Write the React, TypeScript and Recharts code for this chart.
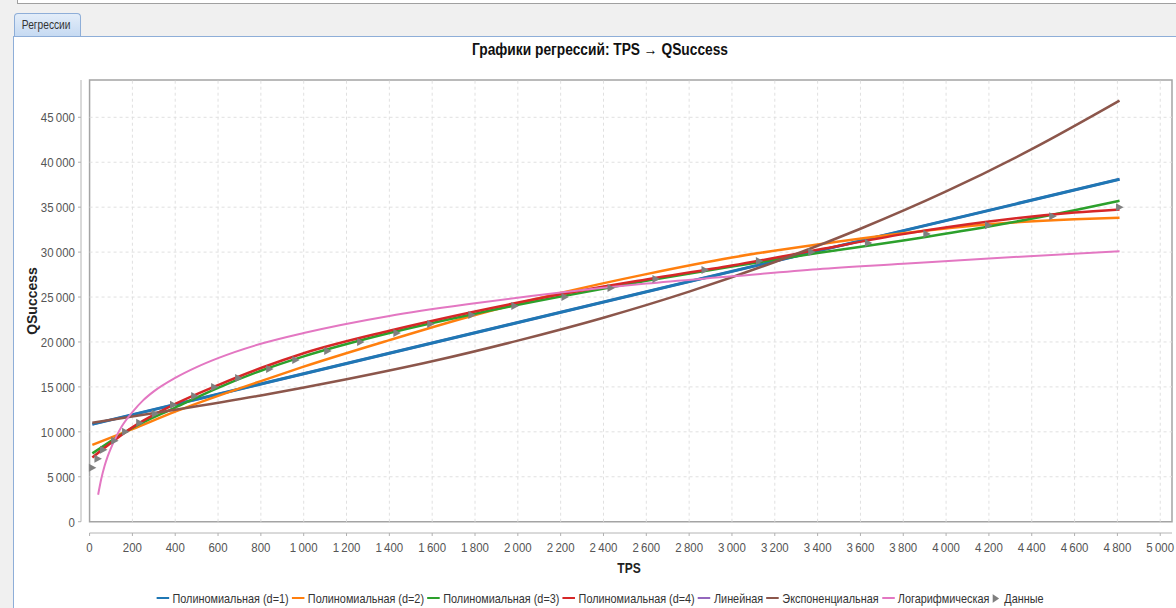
/** Regression chart — TPS → QSuccess, seven fitted curves over measured points */
import React from 'react'
import {
  ComposedChart,
  Line,
  Scatter,
  XAxis,
  YAxis,
  ReferenceLine,
  ReferenceArea,
  Legend,
} from 'recharts'

const FONT = "'Liberation Sans', Arial, sans-serif"
// the source UI uses a condensed face; squeeze the regular one horizontally
const SQUEEZE = 0.85

// measured points (Данные)
const tpsValues = [
  13, 39, 65, 117, 168, 234, 307, 392, 491, 584, 696, 841, 963, 1112, 1266,
  1435, 1593, 1785, 1986, 2220, 2435, 2645, 2874, 3128, 3372, 3637, 3910, 4198, 4498, 4810,
]
const qSuccessValues = [
  6000, 7000, 8000, 9000, 10000, 11000, 12000, 13000, 14000, 15000, 16000, 17000, 18000, 19000, 20000,
  21000, 22000, 23000, 24000, 25000, 26000, 27000, 28000, 29000, 30000, 31000, 32000, 33000, 34000, 35000,
]

// fitted curves
const linTps = [13, 2850, 4810]
const poly1Values = [10840, 27010, 38100]
const linearValues = [10840, 27010, 38100]

const polyTps = [13, 200, 400, 600, 800, 1000, 1400, 1800, 2200, 2600, 3000, 3400, 3800, 4200, 4600, 4810]
const poly2Values = [8550, 10300, 12250, 14000, 15650, 17250, 20200, 23000, 25450, 27550, 29400, 30850, 32100, 33100, 33650, 33830]
const poly3Values = [7600, 10450, 12700, 14900, 16800, 18400, 21000, 23150, 25050, 26800, 28400, 29900, 31300, 32850, 34650, 35720]
const poly4Values = [7150, 10500, 13100, 15200, 17100, 18750, 21250, 23400, 25300, 26950, 28500, 30250, 32000, 33400, 34400, 34750]

const expTps = [13, 400, 800, 1200, 1600, 2000, 2400, 2800, 3200, 3600, 4000, 4400, 4810]
const expValues = [11000, 12450, 14050, 15850, 17850, 20150, 22700, 25600, 28900, 32600, 36750, 41450, 46850]

const logTps = [40, 55, 70, 85, 100, 125, 150, 200, 250, 300, 400, 500, 600, 800, 1000, 1400, 1800, 2200, 2600, 3000, 3400, 3800, 4200, 4810]
const logValues = [3000, 4800, 6200, 7300, 8200, 9500, 10600, 12200, 13500, 14500, 16000, 17200, 18200, 19800, 21000, 22900, 24300, 25500, 26500, 27300, 28100, 28700, 29300, 30100]

const xTicks = Array.from({ length: 26 }, (_, i) => i * 200)
const yTicks = [0, 5000, 10000, 15000, 20000, 25000, 30000, 35000, 40000, 45000]

// axis ranges: the axes sit a few px outside the framed plot box
const X_MIN = -40
const X_MAX = 5055
const Y_MIN = -1257
const Y_MAX = 49150

const toPoints = (xs: number[], ys: number[]) => xs.map((x, i) => ({ x, y: ys[i] }))

const series = [
  { key: 'lin',   name: 'Линейная',             color: '#9467bd', pts: toPoints(linTps, linearValues), width: 2.5 },
  { key: 'p1',    name: 'Полиномиальная (d=1)', color: '#1f77b4', pts: toPoints(linTps, poly1Values),  width: 3 },
  { key: 'p2',    name: 'Полиномиальная (d=2)', color: '#ff7f0e', pts: toPoints(polyTps, poly2Values), width: 2.5 },
  { key: 'p3',    name: 'Полиномиальная (d=3)', color: '#2ca02c', pts: toPoints(polyTps, poly3Values), width: 2.5 },
  { key: 'p4',    name: 'Полиномиальная (d=4)', color: '#d62728', pts: toPoints(polyTps, poly4Values), width: 2.5 },
  { key: 'exp',   name: 'Экспоненциальная',     color: '#8c564b', pts: toPoints(expTps, expValues),    width: 2.5 },
  { key: 'log',   name: 'Логарифмическая',      color: '#e377c2', pts: toPoints(logTps, logValues),    width: 2 },
]
const legendOrder = ['p1', 'p2', 'p3', 'p4', 'lin', 'exp', 'log']

const dataPoints = toPoints(tpsValues, qSuccessValues)

function fmt(n: number): string {
  return String(n).replace(/\B(?=(\d{3})+(?!\d))/g, '\u2009')
}

// eslint-disable-next-line @typescript-eslint/no-explicit-any
function Triangle({ cx, cy }: any) {
  if (cx == null || cy == null) return null
  return <path d={`M${cx - 3.5},${cy - 4} L${cx + 4},${cy} L${cx - 3.5},${cy + 4} Z`} fill="#7f7f7f" />
}

// eslint-disable-next-line @typescript-eslint/no-explicit-any
function XTick({ x, y, payload }: any) {
  return (
    <g transform={`translate(${x},${y})`}>
      <text transform={`scale(${SQUEEZE},1)`} textAnchor="middle" dy="0.71em"
        fill="#555" fontSize={13.5} fontFamily={FONT}>{fmt(payload.value)}</text>
    </g>
  )
}

// eslint-disable-next-line @typescript-eslint/no-explicit-any
function YTick({ x, y, payload }: any) {
  return (
    <g transform={`translate(${x},${y})`}>
      <text transform={`scale(${SQUEEZE},1)`} textAnchor="end" dy="0.36em"
        fill="#555" fontSize={13.5} fontFamily={FONT}>{fmt(payload.value)}</text>
    </g>
  )
}

function LegendContent() {
  return (
    <div style={{ display: 'flex', justifyContent: 'center', height: 20, paddingLeft: 8 }}>
      <div style={{
        display:         'inline-flex',
        alignItems:      'center',
        height:          20,
        fontFamily:      FONT,
        fontSize:        13,
        color:           '#333',
        whiteSpace:      'nowrap',
        transform:       'scaleX(0.835)',
        transformOrigin: 'center',
      }}>
        {legendOrder.map(k => {
          const s = series.find(v => v.key === k)!
          return (
            <span key={k} style={{ display: 'flex', alignItems: 'center', marginRight: 4 }}>
              <span style={{ width: 15, height: 2, background: s.color, marginRight: 4 }} />
              {s.name}
            </span>
          )
        })}
        <span style={{ display: 'flex', alignItems: 'center' }}>
          <svg width={8} height={9} style={{ marginRight: 6 }}>
            <path d="M0,0 L8,4.5 L0,9 Z" fill="#7f7f7f" />
          </svg>
          Данные
        </span>
      </div>
    </div>
  )
}

export default function App() {
  return (
    <div style={{ position: 'absolute', left: 0, top: 0, width: 1176, height: 608, background: '#f0f0f0', overflow: 'hidden' }}>
      {/* window chrome */}
      <div style={{ position: 'absolute', left: 17, top: 0, width: 1159, height: 3, background: '#fff', borderLeft: '1px solid #a0a0a0', borderBottom: '1px solid #a0a0a0' }} />
      <div style={{ position: 'absolute', left: 13, top: 36, width: 1163, height: 572, background: '#fff', borderLeft: '1px solid #8eaed8', borderTop: '1px solid #8eaed8' }} />
      <div style={{
        position:     'absolute',
        left:         14,
        top:          13,
        width:        67,
        height:       23,
        border:       '1px solid #8eaed8',
        borderBottom: 'none',
        borderRadius: '4px 4px 0 0',
        background:   'linear-gradient(#e3edf9, #c6daf2)',
        boxSizing:    'border-box',
        overflow:     'hidden',
      }}>
        <div style={{
          fontFamily:      FONT,
          fontSize:        12,
          color:           '#333',
          lineHeight:      '23px',
          paddingLeft:     8,
          whiteSpace:      'nowrap',
          transform:       `scaleX(${SQUEEZE})`,
          transformOrigin: 'left',
        }}>Регрессии</div>
      </div>

      <div style={{
        position:        'absolute',
        left:            400,
        width:           400,
        top:             41,
        textAlign:       'center',
        fontFamily:      FONT,
        fontSize:        16,
        fontWeight:      700,
        color:           '#111',
        lineHeight:      '18px',
        transform:       'scaleX(0.86)',
        transformOrigin: 'center',
      }}>Графики регрессий: TPS → QSuccess</div>

      <div style={{ position: 'absolute', left: 0, top: 0 }}>
        <ComposedChart width={1176} height={608} margin={{ top: 80, right: 4, bottom: 0, left: 21 }}>
          <XAxis
            type="number"
            dataKey="x"
            domain={[X_MIN, X_MAX]}
            ticks={xTicks}
            interval={0}
            tick={<XTick />}
            axisLine={false}
            tickLine={{ stroke: '#b0b0b0' }}
            tickSize={3}
            tickMargin={6}
            height={55}
            allowDataOverflow
            label={{
              content: () => (
                <text x={629} y={573} transform="translate(629,0) scale(0.86,1) translate(-629,0)" textAnchor="middle"
                  fill="#222" fontSize={14} fontWeight={700} fontFamily={FONT}>TPS</text>
              ),
            }}
          />
          <YAxis
            type="number"
            dataKey="y"
            domain={[Y_MIN, Y_MAX]}
            ticks={yTicks}
            interval={0}
            tick={<YTick />}
            axisLine={false}
            tickLine={{ stroke: '#b0b0b0' }}
            tickSize={3}
            tickMargin={3}
            width={60}
            allowDataOverflow
            label={{
              content: () => (
                <text x={32} y={301} transform="rotate(-90 32 301)" textAnchor="middle" dominantBaseline="central"
                  fill="#222" fontSize={14} fontWeight={700} fontFamily={FONT}>QSuccess</text>
              ),
            }}
          />
          <Legend verticalAlign="bottom" height={20} content={<LegendContent />} />

          {xTicks.filter(t => t > 0).map(t => (
            <ReferenceLine key={`vx${t}`} segment={[{ x: t, y: 0 }, { x: t, y: Y_MAX }]}
              stroke="#e0e0e0" strokeDasharray="3 3" ifOverflow="visible" />
          ))}
          {yTicks.filter(t => t > 0).map(t => (
            <ReferenceLine key={`hy${t}`} segment={[{ x: 0, y: t }, { x: X_MAX, y: t }]}
              stroke="#e0e0e0" strokeDasharray="3 3" ifOverflow="visible" />
          ))}
          <ReferenceLine segment={[{ x: 0, y: Y_MIN }, { x: X_MAX, y: Y_MIN }]} stroke="#b4b4b4" ifOverflow="visible" />
          <ReferenceLine segment={[{ x: X_MIN, y: 0 }, { x: X_MIN, y: Y_MAX }]} stroke="#b4b4b4" ifOverflow="visible" />
          <ReferenceArea x1={0} x2={X_MAX} y1={0} y2={Y_MAX} fill="none" stroke="#a4a4a4" strokeWidth={1.5} ifOverflow="visible" />

          {series.map(s => (
            <Line
              key={s.key}
              data={s.pts}
              dataKey="y"
              type="monotone"
              stroke={s.color}
              strokeWidth={s.width}
              dot={false}
              activeDot={false}
              isAnimationActive={false}
            />
          ))}
          <Scatter data={dataPoints} dataKey="y" fill="#7f7f7f" shape={<Triangle />} isAnimationActive={false} />
        </ComposedChart>
      </div>
    </div>
  )
}
